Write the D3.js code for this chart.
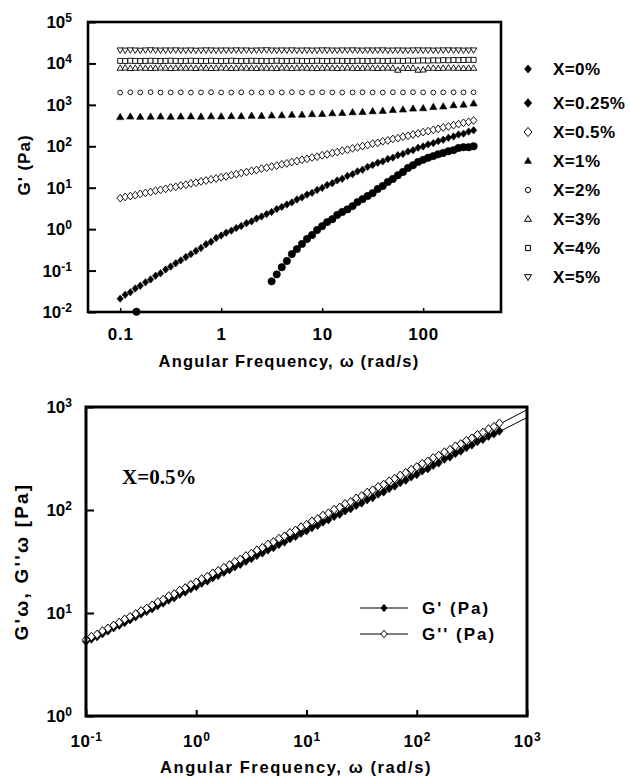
<!DOCTYPE html>
<html>
<head>
<meta charset="utf-8">
<script src="https://cdn.jsdelivr.net/npm/d3@7"></script>
<style>
  html, body { margin: 0; padding: 0; background: #fff; }
  svg { display: block; }
  text { font-family: "Liberation Sans", Arial, Helvetica, sans-serif; font-weight: bold; fill: #000; }
</style>
</head>
<body>
<svg id="chart" width="630" height="779"></svg>
<script>
// ---------- Frequency sweeps (rad/s) ----------
const omegaCoarse = [0.1, 0.126, 0.158, 0.2, 0.251, 0.316, 0.398, 0.501, 0.631, 0.794,
  1, 1.26, 1.58, 2, 2.51, 3.16, 3.98, 5.01, 6.31, 7.94,
  10, 12.6, 15.8, 20, 25.1, 31.6, 39.8, 50.1, 63.1, 79.4,
  100, 126, 158, 200, 251, 316];

const omegaFine = [0.1, 0.112, 0.126, 0.141, 0.158, 0.178, 0.2, 0.224, 0.251, 0.282,
  0.316, 0.355, 0.398, 0.447, 0.501, 0.562, 0.631, 0.708, 0.794, 0.891,
  1, 1.12, 1.26, 1.41, 1.58, 1.78, 2, 2.24, 2.51, 2.82,
  3.16, 3.55, 3.98, 4.47, 5.01, 5.62, 6.31, 7.08, 7.94, 8.91,
  10, 11.2, 12.6, 14.1, 15.8, 17.8, 20, 22.4, 25.1, 28.2,
  31.6, 35.5, 39.8, 44.7, 50.1, 56.2, 63.1, 70.8, 79.4, 89.1,
  100, 112, 126, 141, 158, 178, 200, 224, 251, 282,
  316];

const omegaX0 = [0.145, 3.16, 3.55, 3.98, 4.47, 5.01, 5.62, 6.31, 7.08, 7.94,
  8.91, 10, 11.2, 12.6, 14.1, 15.8, 17.8, 20, 22.4, 25.1,
  28.2, 31.6, 35.5, 39.8, 44.7, 50.1, 56.2, 63.1, 70.8, 79.4,
  89.1, 100, 112, 126, 141, 158, 178, 200, 224, 251,
  282, 316];

const omegaX05 = [0.1, 0.112, 0.126, 0.141, 0.158, 0.178, 0.2, 0.224, 0.251, 0.282,
  0.316, 0.355, 0.398, 0.447, 0.501, 0.562, 0.631, 0.708, 0.794, 0.891,
  1, 1.12, 1.26, 1.41, 1.58, 1.78, 2, 2.24, 2.51, 2.82,
  3.16, 3.55, 3.98, 4.47, 5.01, 5.62, 6.31, 7.08, 7.94, 8.91,
  10, 11.2, 12.6, 14.1, 15.8, 17.8, 20, 22.4, 25.1, 28.2,
  31.6, 35.5, 39.8, 44.7, 50.1, 56.2, 63.1, 70.8, 79.4, 89.1,
  100, 112, 126, 141, 158, 178, 200, 224, 251, 282,
  316, 355, 398, 447, 501, 562];

// ---------- Storage modulus G' (Pa) for each X ----------
const gX0 = [0.0101, 0.055, 0.081, 0.12, 0.17, 0.25, 0.33, 0.44, 0.58, 0.72,
  0.95, 1.18, 1.48, 1.74, 2.2, 2.6, 3.0, 3.6, 4.5, 5.3,
  6.3, 7.4, 9.3, 11, 13.8, 16.3, 20, 24, 30, 35,
  42, 47, 53, 58, 64, 69, 76, 81, 91, 95,
  95, 100];

const gX025 = [0.021, 0.026, 0.030, 0.037, 0.043, 0.052, 0.061, 0.075, 0.086, 0.106,
  0.125, 0.150, 0.176, 0.212, 0.249, 0.298, 0.352, 0.431, 0.497, 0.61,
  0.70, 0.82, 0.92, 1.06, 1.19, 1.39, 1.54, 1.80, 2.02, 2.31,
  2.60, 3.05, 3.44, 3.93, 4.42, 5.18, 5.84, 6.82, 7.52, 8.80,
  9.9, 11.6, 12.8, 15.0, 16.4, 19.3, 21.2, 24.8, 27.2, 31.9,
  35.1, 40.2, 43.2, 49.5, 53.1, 60.9, 65.4, 74.8, 80.5, 92.1,
  99, 111, 119, 133, 144, 160, 172, 193, 202, 226,
  243];

const gX05 = [5.6, 6.0, 6.3, 6.6, 7.1, 7.5, 7.9, 8.5, 8.9, 9.4,
  10.1, 10.5, 11.3, 11.8, 12.7, 13.2, 14.2, 14.9, 15.9, 16.7,
  17.9, 18.8, 20.1, 21.2, 22.7, 23.9, 25.6, 26.8, 28.9, 30.3,
  32.6, 34.2, 36.8, 38.7, 41.8, 43.9, 47.3, 49.7, 53.6, 56.2,
  60.7, 63.8, 68.9, 72.6, 78.5, 82.6, 89.2, 94.0, 101, 107,
  116, 121, 132, 138, 150, 157, 170, 179, 193, 204,
  220, 232, 250, 263, 285, 300, 324, 342, 368, 389,
  420];

const gX1 = [505, 520, 512, 518, 522, 515, 521, 526, 519, 527,
  524, 533, 531, 543, 541, 553, 558, 574, 578, 596,
  601, 624, 633, 660, 670, 698, 714, 752, 768, 810,
  826, 884, 912, 978, 1010, 1080];

const gX2 = [1980, 2010, 2000, 2020, 1990, 2000, 2010, 1990, 2000, 2020,
  2000, 1990, 2010, 2000, 1990, 2010, 2000, 2020, 2000, 1990,
  2010, 2000, 1990, 2000, 2010, 2000, 1990, 2010, 2000, 2020,
  2000, 1990, 2000, 2010, 2000, 2010];

const gX3 = [7700, 7800, 7600, 7700, 7800, 7700, 7600, 7700, 7800, 7700,
  7600, 7700, 7800, 7700, 7700, 7600, 7800, 7700, 7600, 7700,
  7800, 7700, 7600, 7700, 7800, 7700, 7700, 7600, 7800, 7700,
  7700, 7600, 7800, 7700, 7600, 7700, 7800, 7700, 7700, 7600,
  7700, 7800, 7700, 7600, 7700, 7800, 7700, 7600, 7700, 7800,
  7700, 7600, 7700, 7800, 7700, 6900, 7700, 7600, 7700, 6900,
  7000, 7700, 7700, 7600, 7700, 7800, 7700, 7700, 7600, 7700,
  7700];

const gX4 = [11500, 11400, 11600, 11500, 11400, 11500, 11600, 11500, 11400, 11500,
  11600, 11500, 11400, 11500, 11600, 11500, 11500, 11400, 11600, 11500,
  11400, 11500, 11600, 11500, 11400, 11500, 11600, 11500, 11500, 11400,
  11500, 11600, 11500, 11400, 11500, 11600, 11500, 11400, 11500, 11600,
  11500, 11400, 11500, 11600, 11500, 11500, 11400, 11600, 11500, 11400,
  11500, 11600, 11500, 11500, 11600, 11600, 11500, 11700, 11600, 11700,
  11800, 11700, 11900, 11800, 12000, 11900, 12100, 12000, 12100, 12200,
  12200];

const gX5 = [21000, 20800, 21100, 20900, 20700, 21000, 21200, 20900, 20800, 21000,
  20900, 21100, 20800, 20900, 21000, 20700, 20900, 21100, 21000, 20800,
  20900, 21000, 20800, 21100, 20900, 21000, 20700, 20900, 21000, 21200,
  20900, 20800, 21000, 20900, 21100, 20800, 20900, 21000, 20800, 20900,
  21100, 21000, 20900, 20800, 21000, 20900, 21100, 20900, 20800, 21000,
  20900, 21000, 21100, 20800, 20900, 21000, 20900, 20800, 21000, 21100,
  20900, 21000, 20800, 20900, 21000, 21100, 20900, 21000, 20800, 20900,
  21000];

// ---------- X = 0.5 %: storage and loss moduli (Pa) ----------
const gPrime05 = [5.3, 5.6, 5.9, 6.3, 6.7, 7.2, 7.6, 8.1, 8.6, 9.2,
  9.8, 10.4, 11.0, 11.8, 12.5, 13.4, 14.1, 15.2, 16.0, 17.2,
  18.1, 19.5, 20.5, 22.0, 23.2, 24.9, 26.3, 28.2, 29.8, 31.9,
  33.8, 36.3, 38.3, 41.0, 43.2, 46.4, 49.0, 52.7, 55.5, 59.6,
  62.8, 67.5, 71.0, 76.4, 80.6, 86.8, 91.2, 98.3, 103, 111,
  117, 126, 132, 143, 150, 162, 171, 185, 195, 210,
  222, 240, 252, 272, 287, 312, 328, 355, 374, 404,
  428, 462, 485, 522, 550, 585];

const gDouble05 = [5.5, 5.9, 6.2, 6.7, 7.1, 7.6, 8.1, 8.7, 9.2, 9.8,
  10.5, 11.1, 11.9, 12.8, 13.5, 14.6, 15.3, 16.6, 17.5, 18.8,
  19.9, 21.4, 22.6, 24.3, 25.7, 27.6, 29.3, 31.5, 33.2, 35.8,
  37.8, 40.7, 43.0, 46.4, 49.0, 52.8, 55.7, 60.1, 63.3, 68.3,
  72.0, 77.8, 81.9, 88.5, 93.2, 101, 106, 115, 120, 130,
  137, 148, 156, 168, 177, 191, 202, 217, 230, 247,
  262, 282, 297, 321, 338, 365, 385, 416, 438, 472,
  498, 538, 567, 612, 645, 696];

// Power-law trend lines through G' and G'' (end points)
const trendOmega = [0.1, 1000];
const trendGPrime = [5.2, 790];
const trendGDouble = [5.5, 940];

// ---------- Axis ticks and labels ----------
const upperXTicks = [0.1, 1, 10, 100];
const upperXTickLabels = ["0.1", "1", "10", "100"];
const upperYTicks = [1e-2, 1e-1, 1, 1e1, 1e2, 1e3, 1e4, 1e5];
const upperYExponents = ["-2", "-1", "0", "1", "2", "3", "4", "5"];
const lowerXTicks = [0.1, 1, 10, 100, 1000];
const lowerXExponents = ["-1", "0", "1", "2", "3"];
const lowerYTicks = [1, 10, 100, 1000];
const lowerYExponents = ["0", "1", "2", "3"];

const seriesLabels = ["X=0%", "X=0.25%", "X=0.5%", "X=1%", "X=2%", "X=3%", "X=4%", "X=5%"];
const pairLabels = ["G' (Pa)", "G'' (Pa)"];

// ---------- Marker shapes (size argument = half-height in px) ----------
const shapeCircle = { draw(c, r) { c.moveTo(r, 0); c.arc(0, 0, r, 0, 2 * Math.PI); c.closePath(); } };
const shapeDiamond = { draw(c, r) { c.moveTo(0, -r); c.lineTo(r * 0.85, 0); c.lineTo(0, r); c.lineTo(-r * 0.85, 0); c.closePath(); } };
const shapeTriUp = { draw(c, r) { c.moveTo(0, -r); c.lineTo(r * 0.95, r * 0.65); c.lineTo(-r * 0.95, r * 0.65); c.closePath(); } };
const shapeTriDown = { draw(c, r) { c.moveTo(0, r); c.lineTo(r * 0.95, -r * 0.65); c.lineTo(-r * 0.95, -r * 0.65); c.closePath(); } };
const shapeSquare = { draw(c, r) { c.rect(-r, -r, 2 * r, 2 * r); } };

const svg = d3.select("#chart");

function addPowerLabels(axisG, exps, superDy) {
  axisG.selectAll(".tick text").each(function (d, i) {
    const t = d3.select(this).text(null);
    t.append("tspan").text("10");
    t.append("tspan").attr("dy", superDy).attr("font-size", 12).text(exps[i]);
  });
}

function styleAxis(g, tickWidth) {
  g.attr("font-size", null).attr("font-family", null);
  g.select(".domain").remove();
  g.selectAll(".tick line").attr("stroke", "#000").attr("stroke-width", tickWidth);
  g.selectAll(".tick text").attr("font-size", 17);
}

function drawMarkers(g, omega, values, x, y, shape, r, filled, sw) {
  g.append("g")
    .selectAll("path")
    .data(d3.zip(omega, values))
    .join("path")
    .attr("transform", d => `translate(${x(d[0])},${y(d[1])})`)
    .attr("d", d3.symbol().type(shape).size(r))
    .attr("fill", filled ? "#000" : "#fff")
    .attr("stroke", "#000")
    .attr("stroke-width", filled ? 0.6 : sw);
}

// =================== Upper panel: G' vs frequency for all X ===================
const xUpper = d3.scaleLog().domain([0.048, 590]).range([88, 501]);
const yUpper = d3.scaleLog().domain([1e-2, 1e5]).range([312, 22]);

const upper = svg.append("g");

const upperSeries = [
  { omega: omegaX0, g: gX0, shape: shapeCircle, r: 3.7, filled: true, legendShape: shapeDiamond, legendR: 4.2 },
  { omega: omegaFine, g: gX025, shape: shapeDiamond, r: 3.7, filled: true, legendShape: shapeDiamond, legendR: 4.6 },
  { omega: omegaFine, g: gX05, shape: shapeDiamond, r: 3.9, filled: false, legendShape: shapeDiamond, legendR: 4.6 },
  { omega: omegaCoarse, g: gX1, shape: shapeTriUp, r: 3.8, filled: true, legendShape: shapeTriUp, legendR: 3.8 },
  { omega: omegaCoarse, g: gX2, shape: shapeCircle, r: 2.4, filled: false, legendShape: shapeCircle, legendR: 2.6 },
  { omega: omegaFine, g: gX3, shape: shapeTriUp, r: 3.3, filled: false, legendShape: shapeTriUp, legendR: 3.6 },
  { omega: omegaFine, g: gX4, shape: shapeSquare, r: 2.5, filled: false, legendShape: shapeSquare, legendR: 2.6 },
  { omega: omegaFine, g: gX5, shape: shapeTriDown, r: 3.3, filled: false, legendShape: shapeTriDown, legendR: 3.6 }
];

upperSeries.forEach(s => drawMarkers(upper, s.omega, s.g, xUpper, yUpper, s.shape, s.r, s.filled, 0.9));

const upperXAxis = upper.append("g")
  .attr("transform", `translate(0,${yUpper.range()[0]})`)
  .call(d3.axisBottom(xUpper).tickValues(upperXTicks).tickSizeInner(-4).tickSizeOuter(0)
    .tickPadding(16).tickFormat((d, i) => upperXTickLabels[i]));
styleAxis(upperXAxis, 1.5);
upperXAxis.selectAll(".tick text").attr("letter-spacing", 0.8);

const upperYAxis = upper.append("g")
  .attr("transform", `translate(${xUpper.range()[0]},0)`)
  .call(d3.axisLeft(yUpper).tickValues(upperYTicks).tickSizeInner(-8).tickSizeOuter(0)
    .tickPadding(16).tickFormat(() => ""));
styleAxis(upperYAxis, 2);
addPowerLabels(upperYAxis, upperYExponents, -6);

upper.append("rect")
  .attr("x", xUpper.range()[0]).attr("y", yUpper.range()[1])
  .attr("width", xUpper.range()[1] - xUpper.range()[0])
  .attr("height", yUpper.range()[0] - yUpper.range()[1])
  .attr("fill", "none").attr("stroke", "#000").attr("stroke-width", 2.6);

upper.append("text")
  .attr("x", 289).attr("y", 367)
  .attr("text-anchor", "middle").attr("font-size", 16.5).attr("letter-spacing", 1.2)
  .text("Angular Frequency, ω (rad/s)");

upper.append("text")
  .attr("transform", `translate(30,${(yUpper.range()[0] + yUpper.range()[1]) / 2 - 2}) rotate(-90)`)
  .attr("text-anchor", "middle").attr("font-size", 17).attr("letter-spacing", 1)
  .text("G' (Pa)");

// legend
const upperLegend = upper.append("g");
seriesLabels.forEach((label, i) => {
  const cy = i === 0 ? 69 : 103 + (i - 1) * 29;
  const s = upperSeries[i];
  upperLegend.append("path")
    .attr("transform", `translate(528,${cy})`)
    .attr("d", d3.symbol().type(s.legendShape).size(s.legendR))
    .attr("fill", s.filled ? "#000" : "#fff")
    .attr("stroke", "#000").attr("stroke-width", s.filled ? 0.4 : 1);
  upperLegend.append("text")
    .attr("x", 553).attr("y", cy + 6)
    .attr("font-size", 17).attr("letter-spacing", 0.4)
    .text(label);
});

// =================== Lower panel: G' and G'' at X = 0.5 % ===================
const xLower = d3.scaleLog().domain([0.1, 1000]).range([86, 527]);
const yLower = d3.scaleLog().domain([1, 1000]).range([716, 407]);

const lower = svg.append("g");

const trendLine = d3.line().x(d => xLower(d[0])).y(d => yLower(d[1]));
lower.append("path").attr("d", trendLine(d3.zip(trendOmega, trendGPrime)))
  .attr("fill", "none").attr("stroke", "#000").attr("stroke-width", 1);
lower.append("path").attr("d", trendLine(d3.zip(trendOmega, trendGDouble)))
  .attr("fill", "none").attr("stroke", "#000").attr("stroke-width", 1);

drawMarkers(lower, omegaX05, gPrime05, xLower, yLower, shapeDiamond, 4.3, true, 1);
drawMarkers(lower, omegaX05, gDouble05, xLower, yLower, shapeDiamond, 4.3, false, 1);

const lowerXAxis = lower.append("g")
  .attr("transform", `translate(0,${yLower.range()[0]})`)
  .call(d3.axisBottom(xLower).tickValues(lowerXTicks).tickSizeInner(-6).tickSizeOuter(0)
    .tickPadding(19).tickFormat(() => ""));
styleAxis(lowerXAxis, 2);
addPowerLabels(lowerXAxis, lowerXExponents, -6);
lowerXAxis.selectAll(".tick text").attr("letter-spacing", 0.6);

const lowerYAxis = lower.append("g")
  .attr("transform", `translate(${xLower.range()[0]},0)`)
  .call(d3.axisLeft(yLower).tickValues(lowerYTicks).tickSizeInner(-8).tickSizeOuter(0)
    .tickPadding(14).tickFormat(() => ""));
styleAxis(lowerYAxis, 2);
addPowerLabels(lowerYAxis, lowerYExponents, -6);

lower.append("rect")
  .attr("x", xLower.range()[0]).attr("y", yLower.range()[1])
  .attr("width", xLower.range()[1] - xLower.range()[0])
  .attr("height", yLower.range()[0] - yLower.range()[1])
  .attr("fill", "none").attr("stroke", "#000").attr("stroke-width", 3);

lower.append("text")
  .attr("x", 296).attr("y", 773)
  .attr("text-anchor", "middle").attr("font-size", 16.5).attr("letter-spacing", 1.6)
  .text("Angular Frequency, ω (rad/s)");

lower.append("text")
  .attr("transform", `translate(28,${(yLower.range()[0] + yLower.range()[1]) / 2}) rotate(-90)`)
  .attr("text-anchor", "middle").attr("font-size", 19).attr("letter-spacing", 2.2)
  .text("G'ω, G''ω [Pa]");

lower.append("text")
  .attr("x", 122).attr("y", 484)
  .style("font-family", "'Liberation Serif', 'Times New Roman', serif")
  .attr("font-size", 21)
  .text("X=0.5%");

// legend
const pairStyles = [
  { filled: true, r: 3.6 },
  { filled: false, r: 3.8 }
];
pairLabels.forEach((label, i) => {
  const cy = 608 + i * 26;
  lower.append("line").attr("x1", 360).attr("x2", 408).attr("y1", cy).attr("y2", cy)
    .attr("stroke", "#000").attr("stroke-width", 1);
  lower.append("path")
    .attr("transform", `translate(384,${cy})`)
    .attr("d", d3.symbol().type(shapeDiamond).size(pairStyles[i].r))
    .attr("fill", pairStyles[i].filled ? "#000" : "#fff")
    .attr("stroke", "#000").attr("stroke-width", 1);
  lower.append("text")
    .attr("x", 422).attr("y", cy + 6)
    .attr("font-size", 17).attr("letter-spacing", 2)
    .text(label);
});
</script>
</body>
</html>
